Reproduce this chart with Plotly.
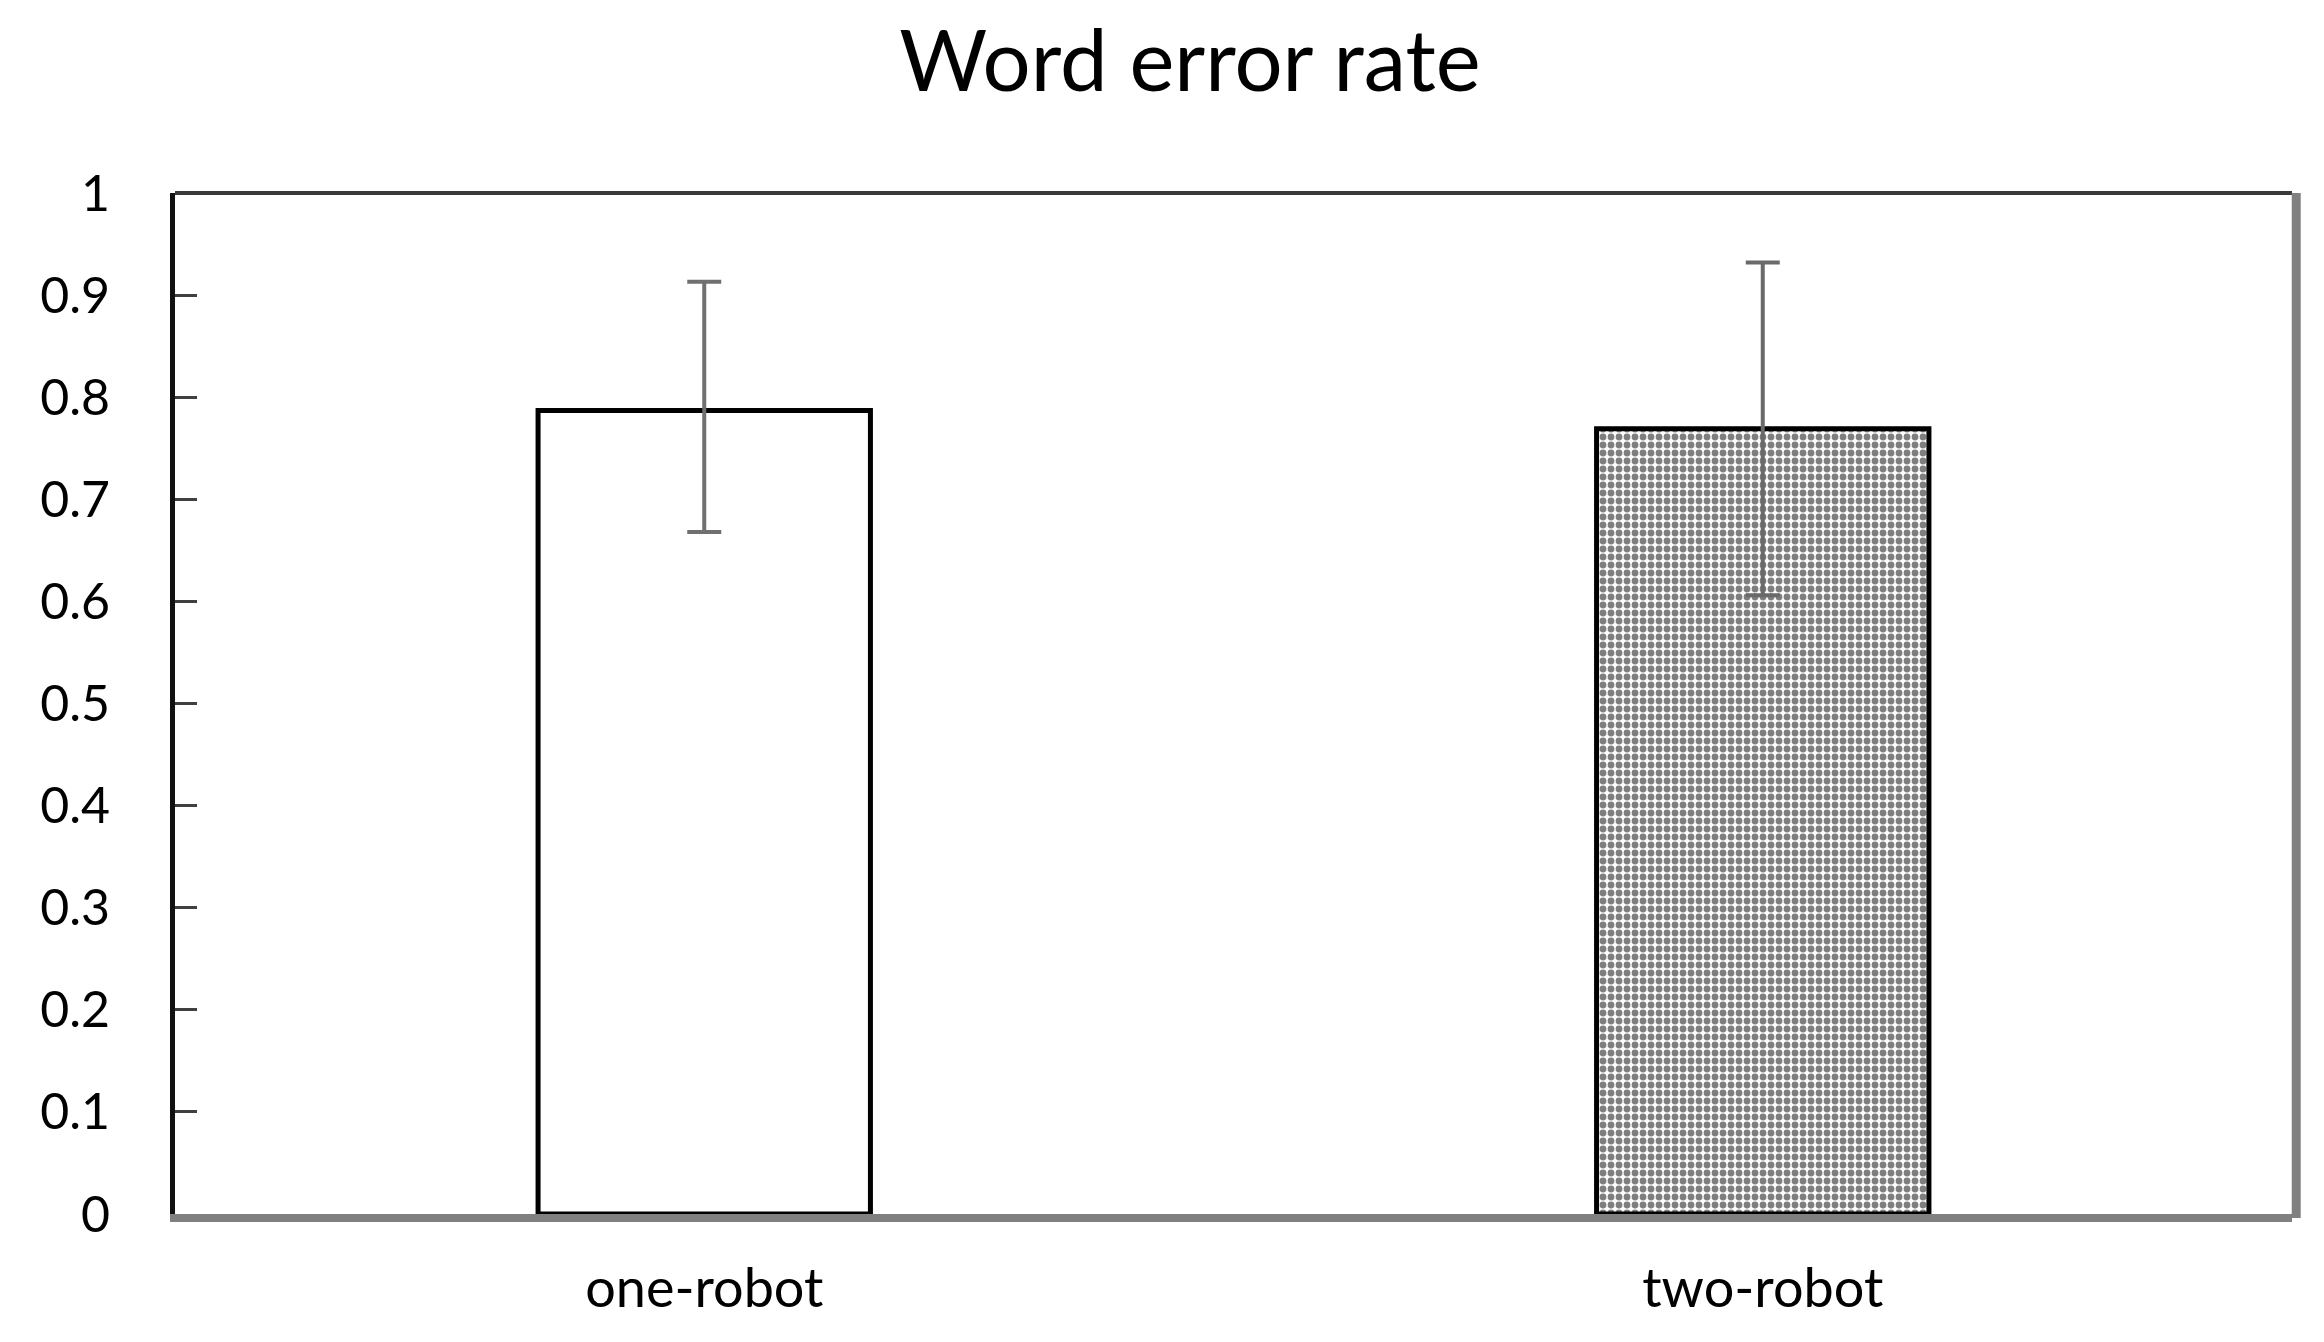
import plotly.graph_objects as go

# data
categories = ["one-robot", "two-robot"]
wer_mean = [0.787, 0.769]
err_plus = [0.126, 0.163]
err_minus = [0.119, 0.163]
y_ticks = [0, 0.1, 0.2, 0.3, 0.4, 0.5, 0.6, 0.7, 0.8, 0.9, 1]

FONT = "Lato"

fig = go.Figure()

# one bar per trace so each can get its own fill
fig.add_trace(go.Bar(
    x=[categories[0]],
    y=[wer_mean[0]],
    marker=dict(color="white", line=dict(color="black", width=5)),
    error_y=dict(type="data", symmetric=False, array=[err_plus[0]], arrayminus=[err_minus[0]],
                 color="#707070", thickness=4, width=17),
    showlegend=False,
))
fig.add_trace(go.Bar(
    x=[categories[1]],
    y=[wer_mean[1]],
    marker=dict(color="white", line=dict(color="black", width=5),
                pattern=dict(shape=".", fgcolor="black", bgcolor="white", size=8, solidity=0.56)),
    error_y=dict(type="data", symmetric=False, array=[err_plus[1]], arrayminus=[err_minus[1]],
                 color="#6a6a6a", thickness=4, width=17),
    showlegend=False,
))

fig.update_layout(
    width=2324,
    height=1342,
    paper_bgcolor="white",
    plot_bgcolor="white",
    margin=dict(l=167, r=40, t=185, b=136),
    bargap=0.686,
    barmode="overlay",
    title=dict(
        text="Word error rate",
        font=dict(family=FONT, size=85, color="black"),
        x=0.5086, xanchor="center", xref="container",
        y=0.96, yanchor="middle", yref="container",
    ),
    font=dict(family=FONT, color="black"),
)

fig.update_xaxes(
    type="category",
    categoryorder="array",
    categoryarray=categories,
    showgrid=False,
    showline=True,
    linecolor="#808080",
    linewidth=8,
    ticks="",
    ticklabelstandoff=20,
    tickfont=dict(family=FONT, size=54, color="black"),
)

fig.update_yaxes(
    range=[0, 1],
    tickvals=y_ticks,
    showgrid=False,
    zeroline=False,
    showline=True,
    linecolor="#111111",
    linewidth=5,
    ticks="inside",
    ticklen=22,
    tickwidth=3,
    tickcolor="#404040",
    ticklabelstandoff=50,
    tickfont=dict(family=FONT, size=50, color="black"),
)

# top and right frame of the plot area
fig.add_shape(type="line", xref="paper", yref="paper", x0=0, x1=1, y0=1, y1=1,
              line=dict(color="#3a3a3a", width=4))
fig.add_shape(type="line", xref="paper", yref="paper", x0=1.002, x1=1.002, y0=-0.004, y1=1,
              line=dict(color="#808080", width=9))

fig.write_html("out.html")
